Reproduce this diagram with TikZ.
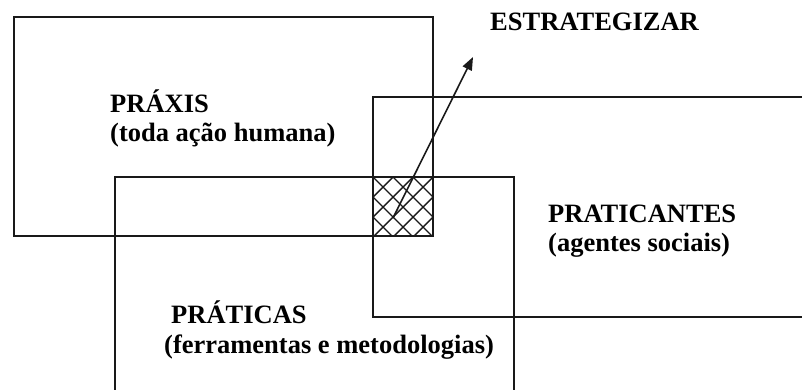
\documentclass[tikz,border=0pt]{standalone}
\usepackage{fontspec}
\setmainfont{Liberation Serif}
\usetikzlibrary{arrows.meta}
\begin{document}
\begin{tikzpicture}[x=1pt,y=-1pt,
  box/.style={draw=black!90,line width=1.7pt,anchor=north west,inner sep=0pt,outer sep=0pt},
  lbl/.style={anchor=base west,inner sep=0pt,font=\fontsize{26.5}{30}\bfseries\selectfont},
  hatchline/.style={draw=black!90,line width=1.4pt}]
\useasboundingbox (0,0) rectangle (802,389);
\clip (0,0) rectangle (802,389);
% rectangles
\node[box,minimum width=419pt,minimum height=219pt] (praxis) at (14,17) {};
\node[box,minimum width=399pt,minimum height=260pt] (praticas) at (115,177) {};
\node[box,minimum width=460pt,minimum height=220pt] (praticantes) at (373,97) {};
% cross-hatched intersection
\begin{scope}
\clip (373,177) rectangle (433,236);
\foreach \k in {-3,...,6}{
  \draw[hatchline] ({373+20*\k},177) -- ({373+20*\k+80},257);
  \draw[hatchline] ({373+20*\k},177) -- ({373+20*\k-80},257);
}
\end{scope}
% labels
\node[lbl] (t1) at (110,112) {PRÁXIS};
\node[lbl] (t1b) at (110,141) {(toda ação humana)};
\node[lbl] (t2) at (548,222) {PRATICANTES};
\node[lbl] (t2b) at (548,251) {(agentes sociais)};
\node[lbl] (t3) at (171,323) {PRÁTICAS};
\node[lbl] (t3b) at (164,353) {(ferramentas e metodologias)};
\node[lbl] (est) at (490,30) {ESTRATEGIZAR};
% arrow
\coordinate (astart) at (393,218);
\coordinate (aend) at (473,57);
\draw[line width=1.6pt,black!90,-{Triangle[length=13pt,width=10pt]}] (astart) -- (aend);
\end{tikzpicture}
\end{document}
